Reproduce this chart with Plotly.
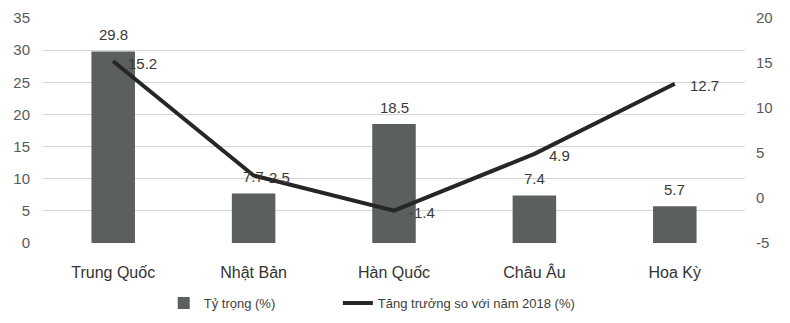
import plotly.graph_objects as go

# Thị trường, tỷ trọng và tăng trưởng so với năm 2018
markets = ["Trung Quốc", "Nhật Bản", "Hàn Quốc", "Châu Âu", "Hoa Kỳ"]
share_pct = [29.8, 7.7, 18.5, 7.4, 5.7]
growth_pct = [15.2, 2.5, -1.4, 4.9, 12.7]

left_ticks = [0, 5, 10, 15, 20, 25, 30, 35]
right_ticks = [-5, 0, 5, 10, 15, 20]

FONT = "Liberation Sans, Arial, sans-serif"
label_font = dict(family=FONT, size=15, color="#3a3a3a")

fig = go.Figure()

fig.add_trace(go.Bar(
    x=markets,
    y=share_pct,
    name="Tỷ trọng (%)",
    marker=dict(color="#5b605d", line=dict(width=0)),
    width=0.31,
    yaxis="y",
    legend="legend",
))

fig.add_trace(go.Scatter(
    x=markets,
    y=growth_pct,
    name="Tăng trưởng so với năm 2018 (%)",
    mode="lines",
    line=dict(color="#262626", width=4),
    yaxis="y2",
    legend="legend2",
))

# value labels: above the bars, to the right of the line points
annotations = []
for m, v in zip(markets, share_pct):
    annotations.append(dict(
        x=m, y=v, xref="x", yref="y", text=f"{v}",
        showarrow=False, xanchor="center", yanchor="middle",
        yshift=17, font=label_font,
    ))
for m, v in zip(markets, growth_pct):
    annotations.append(dict(
        x=m, y=v, xref="x", yref="y2", text=f"{v}",
        showarrow=False, xanchor="left", yanchor="middle",
        xshift=13, yshift=-2, font=label_font,
    ))

fig.update_layout(
    width=790,
    height=323,
    margin=dict(l=43, r=45, t=18, b=80, autoexpand=False),
    paper_bgcolor="white",
    plot_bgcolor="white",
    font=dict(family=FONT, size=13, color="#404040"),
    annotations=annotations,
    xaxis=dict(
        showgrid=False,
        showline=False,
        ticks="",
        ticklabelstandoff=18,
        tickfont=dict(size=16, color="#333333"),
    ),
    yaxis=dict(
        range=[0, 35],
        tickvals=left_ticks,
        ticktext=[str(t) for t in left_ticks],
        showgrid=True,
        gridcolor="#d4d4d4",
        gridwidth=1,
        zeroline=False,
        showline=False,
        ticklabelstandoff=12,
        tickfont=dict(size=15, color="#595959"),
    ),
    yaxis2=dict(
        range=[-5, 20],
        tickvals=right_ticks,
        ticktext=[str(t) for t in right_ticks],
        overlaying="y",
        side="right",
        showgrid=False,
        zeroline=False,
        showline=False,
        ticklabelstandoff=10,
        tickfont=dict(size=15, color="#595959"),
    ),
    legend=dict(
        orientation="h",
        x=0.172, xanchor="left",
        y=0.062, yref="container", yanchor="middle",
        font=dict(size=13, color="#404040"),
    ),
    legend2=dict(
        orientation="h",
        x=0.42, xanchor="left",
        y=0.062, yref="container", yanchor="middle",
        font=dict(size=13, color="#404040"),
    ),
    showlegend=True,
)

fig.write_html("out.html")
